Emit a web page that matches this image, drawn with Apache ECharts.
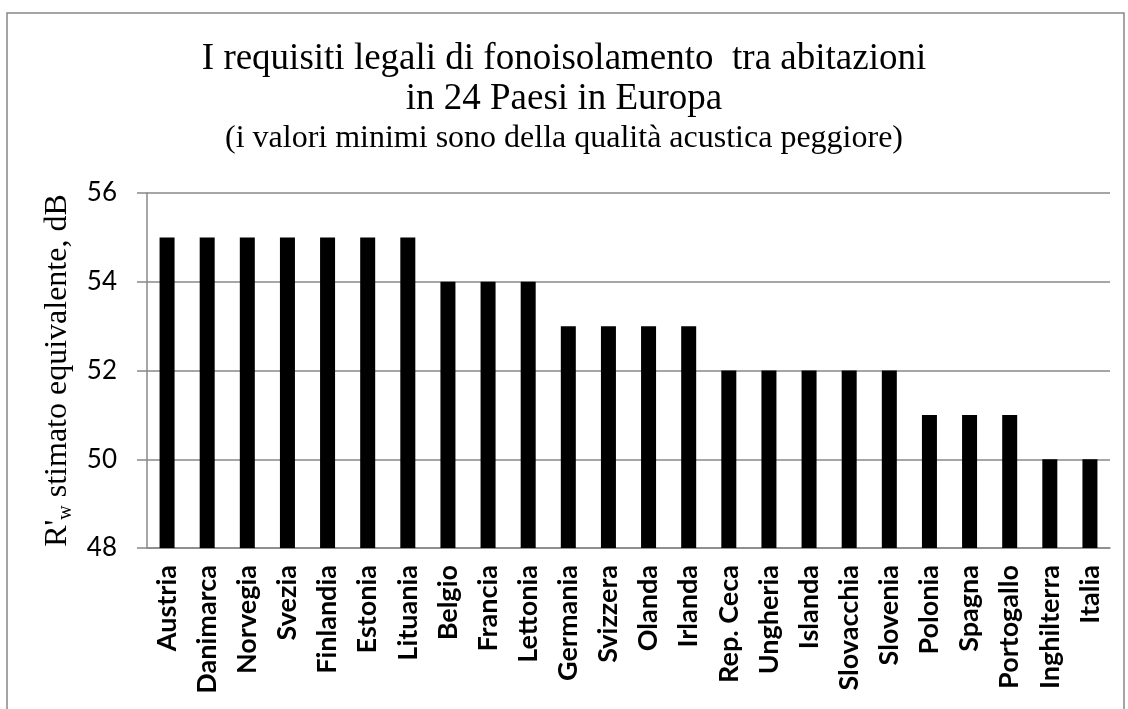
<!DOCTYPE html>
<html><head><meta charset="utf-8">
<script src="https://cdn.jsdelivr.net/npm/echarts@6/dist/echarts.min.js"></script>
<style>html,body{margin:0;padding:0;background:#fff}#c{width:1128px;height:709px}</style>
</head><body><div id="c"></div>
<script>
const categories = ["Austria","Danimarca","Norvegia","Svezia","Finlandia","Estonia","Lituania","Belgio","Francia","Lettonia","Germania","Svizzera","Olanda","Irlanda","Rep. Ceca","Ungheria","Islanda","Slovacchia","Slovenia","Polonia","Spagna","Portogallo","Inghilterra","Italia"];
const values = [55,55,55,55,55,55,55,54,54,54,53,53,53,53,52,52,52,52,52,51,51,51,50,50];
const yTicks = {min:48, max:56, interval:2};

const chart = echarts.init(document.getElementById('c'));
chart.setOption({
  animation:false,
  graphic:[{type:'rect',shape:{x:7,y:13,width:1117,height:720},style:{fill:'none',stroke:'#888',lineWidth:1.5},silent:true}],
  title:[
    {text:'I requisiti legali di fonoisolamento  tra abitazioni\nin 24 Paesi in Europa',left:'center',top:34,padding:[5,5,5,19],
     textStyle:{fontFamily:'Liberation Serif',fontSize:37,fontWeight:'normal',color:'#000',lineHeight:40}},
    {text:'(i valori minimi sono della qualità acustica peggiore)',left:'center',top:118,padding:[5,5,5,19],
     textStyle:{fontFamily:'Liberation Serif',fontSize:32,fontWeight:'normal',color:'#000'}}
  ],
  grid:{left:147,right:18,top:193,bottom:161,containLabel:false},
  xAxis:{type:'category',data:categories,
    axisLine:{lineStyle:{color:'#888',width:1.5}},axisTick:{show:false},
    axisLabel:{rotate:90,interval:0,fontFamily:'Lato',fontWeight:'bold',fontSize:27,color:'#000',margin:17}},
  yAxis:{type:'value',min:yTicks.min,max:yTicks.max,interval:yTicks.interval,
    name:"{a|R'}{s|w}{a| stimato equivalente, dB}",nameLocation:'middle',nameGap:64,nameRotate:90,
    nameTextStyle:{rich:{a:{fontFamily:'Liberation Serif',fontSize:32,color:'#000'},s:{fontFamily:'Liberation Serif',fontSize:20,color:'#000',verticalAlign:'bottom',padding:[16,0,0,0]}}},
    axisLine:{show:true,lineStyle:{color:'#888',width:1.5}},
    axisTick:{show:true,length:10,lineStyle:{color:'#888',width:1.5}},
    splitLine:{lineStyle:{color:'#888',width:1.5}},
    axisLabel:{fontFamily:'Lato',fontSize:26,color:'#000',margin:30}},
  series:[{type:'bar',data:values,barWidth:15,itemStyle:{color:'#000'}}]
});
</script></body></html>
